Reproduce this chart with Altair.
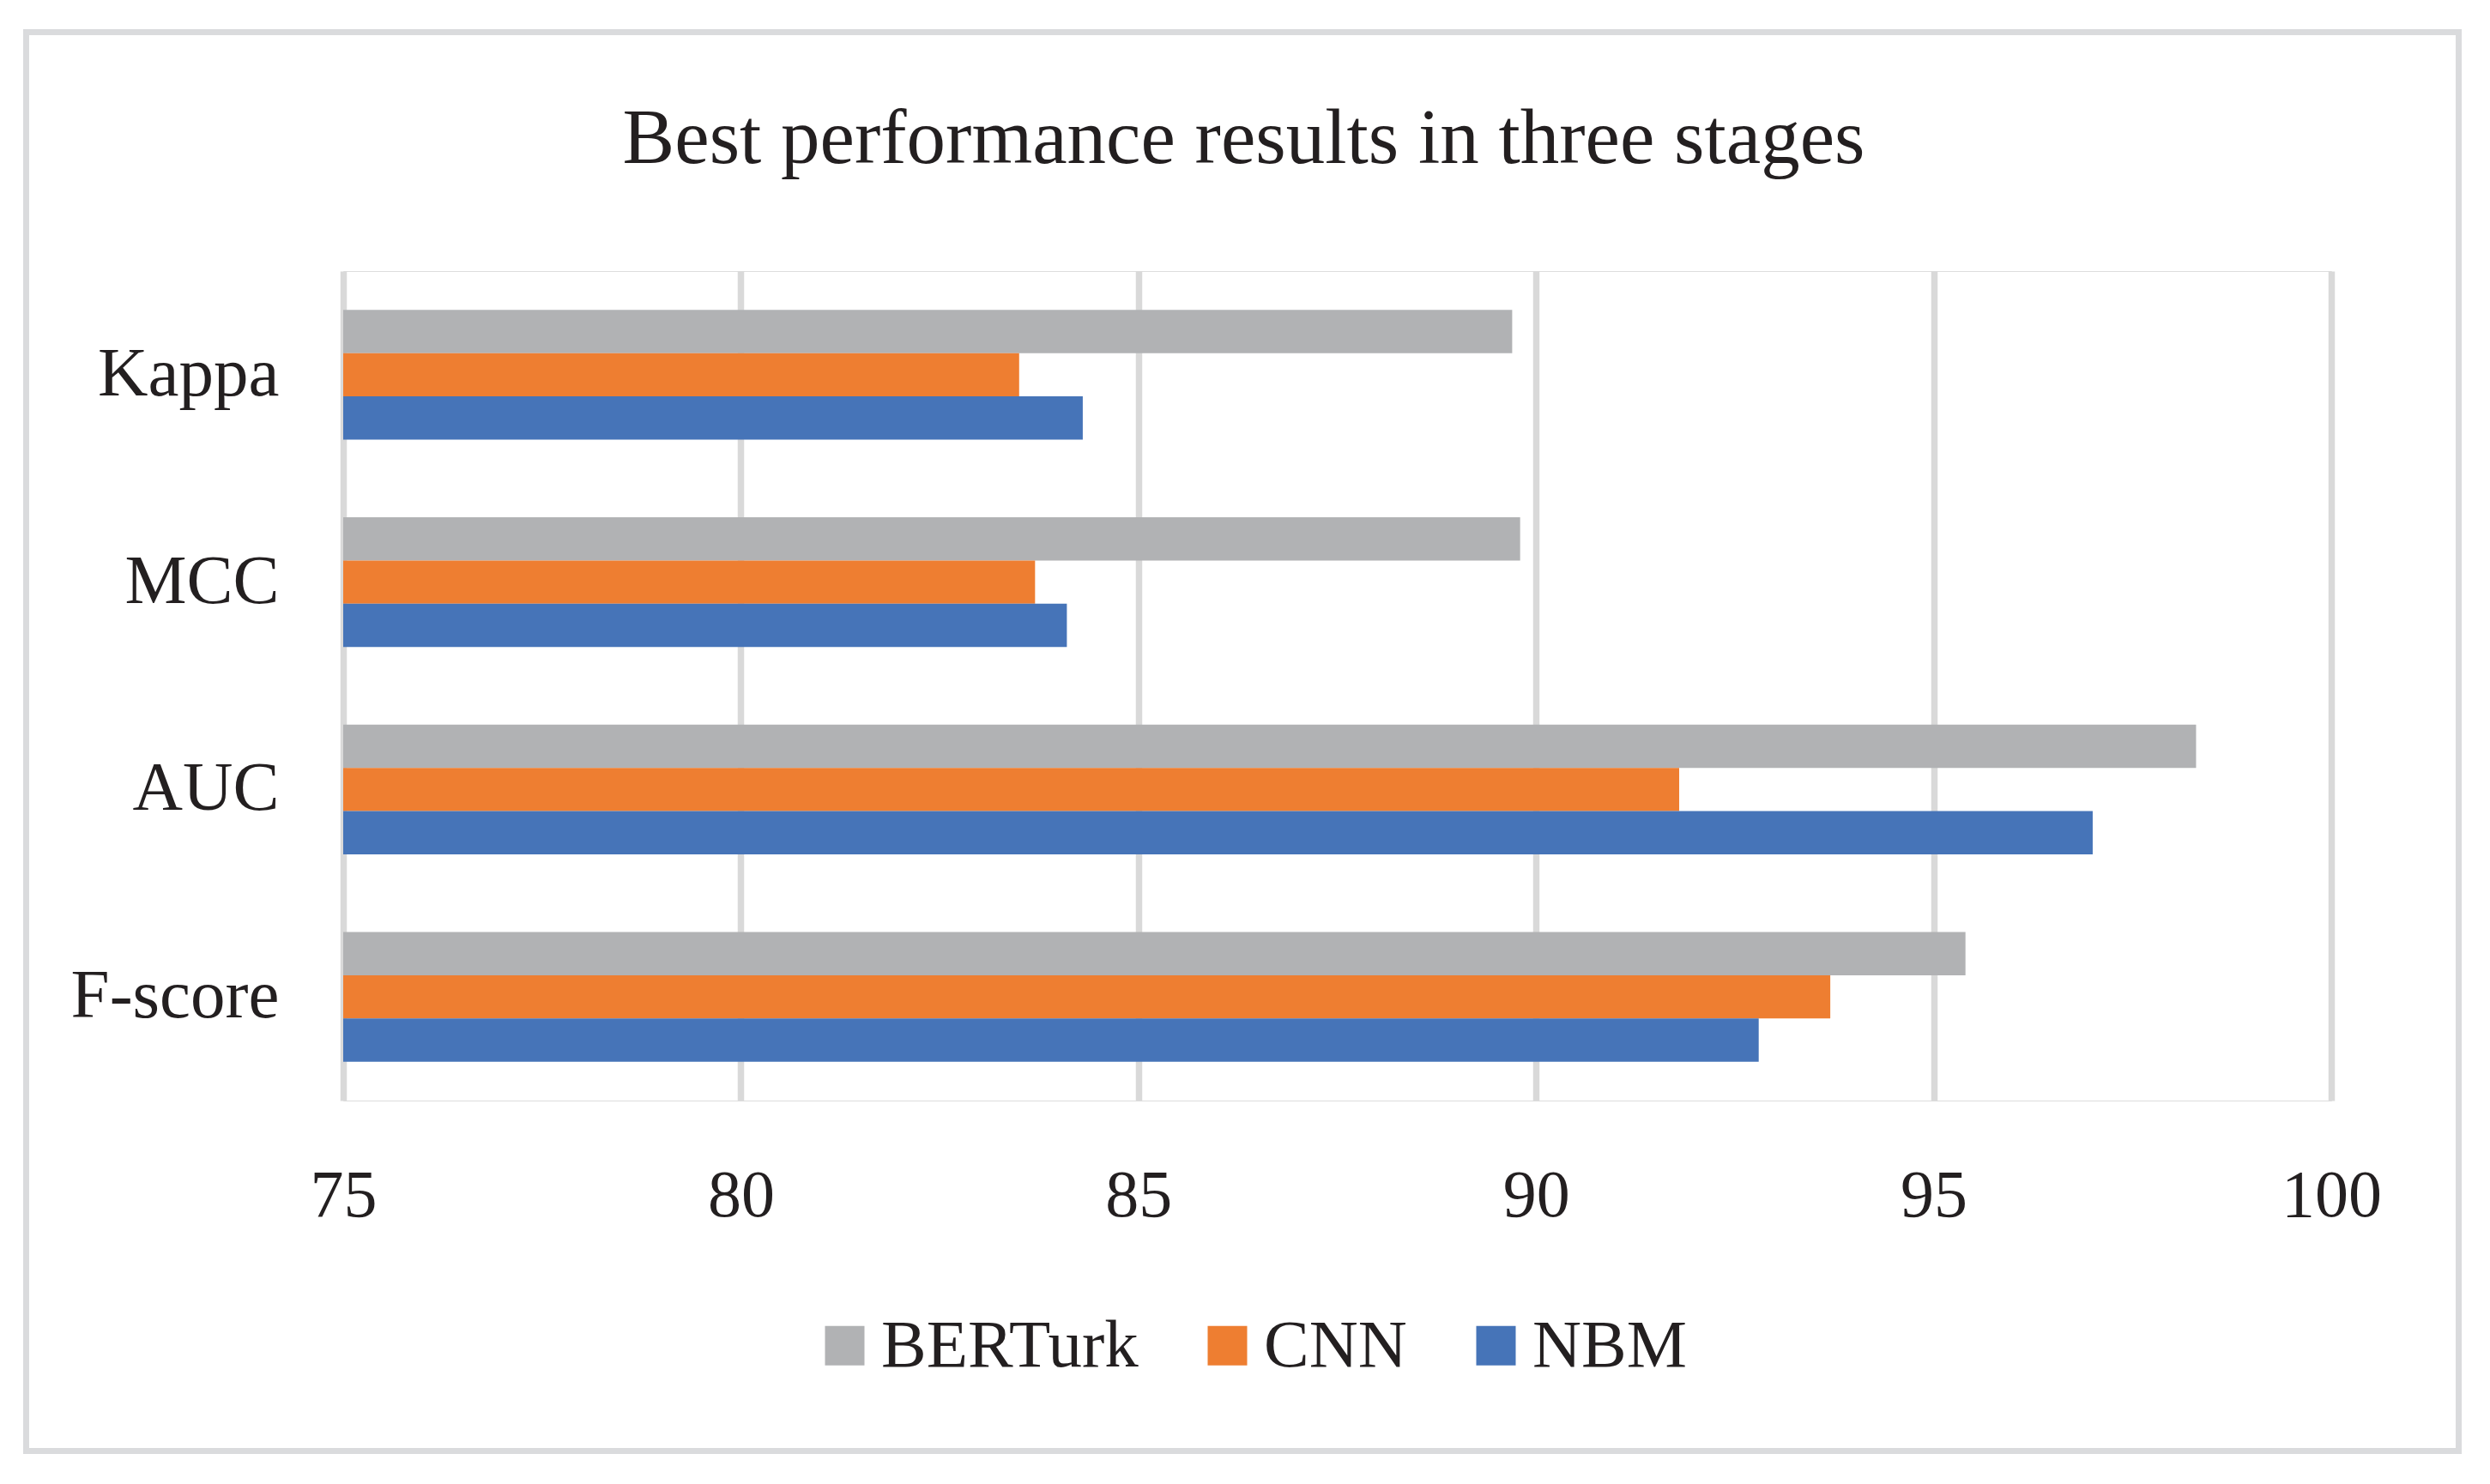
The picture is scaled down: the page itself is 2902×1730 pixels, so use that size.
import altair as alt
import pandas as pd

metrics = ["Kappa", "MCC", "AUC", "F-score"]
models = ["BERTurk", "CNN", "NBM"]
berturk = [89.7, 89.8, 98.3, 95.4]
cnn = [83.5, 83.7, 91.8, 93.7]
nbm = [84.3, 84.1, 97.0, 92.8]
colors = ["#B1B2B4", "#EE7E31", "#4674B8"]
x_ticks = [75, 80, 85, 90, 95, 100]

rows = []
for i, m in enumerate(metrics):
    for model, vals in zip(models, [berturk, cnn, nbm]):
        rows.append({"metric": m, "model": model, "value": vals[i]})
df = pd.DataFrame(rows)

FONT = "Liberation Serif"
TXT = "#231F20"
W, H = 2317, 967
PL, PT = 392, 308

bars = alt.Chart(df).mark_bar().encode(
    x=alt.X("value:Q",
            scale=alt.Scale(domain=[75, 100], nice=False, zero=False),
            axis=alt.Axis(values=x_ticks, title=None, ticks=False, domain=False,
                          grid=True, gridColor="#D9D9D9", gridWidth=7.5,
                          labelFont=FONT, labelFontSize=78, labelColor=TXT,
                          labelPadding=72, labelBaseline="top", labelFlush=False,
                          labelLimit=1000)),
    x2=alt.datum(75),
    y=alt.Y("metric:N", sort=metrics,
            scale=alt.Scale(paddingInner=0.375, paddingOuter=0.1875),
            axis=alt.Axis(title=None, ticks=False, domain=False, grid=False,
                          labelFont=FONT, labelFontSize=81, labelColor=TXT,
                          labelPadding=75, labelLimit=1000)),
    yOffset=alt.YOffset("model:N", sort=models,
                        scale=alt.Scale(paddingInner=0, paddingOuter=0)),
    color=alt.Color("model:N", sort=models,
                    scale=alt.Scale(domain=models, range=colors),
                    legend=alt.Legend(title=None, orient="none", direction="horizontal",
                                      legendX=545, legendY=1213, padding=0,
                                      symbolType="square", symbolSize=2116,
                                      symbolStrokeWidth=0, symbolOpacity=1,
                                      labelFont=FONT, labelFontSize=79, labelColor=TXT,
                                      labelOffset=3, columnPadding=64, labelLimit=1000)),
)

# outer frame around the whole chart (page pixels 27..2869 x 34..1695)
fx1, fx2 = 30.5 - 8 - PL, 2865.5 - 8 - PL
fy1, fy2 = 37.5 - 8 - PT, 1691.5 - 8 - PT
frame = alt.Chart(pd.DataFrame({"f": [0]})).mark_rect(
    filled=False, stroke="#DADBDD", strokeWidth=7
).encode(
    x=alt.value(fx1), x2=alt.value(fx2),
    y=alt.value(fy1), y2=alt.value(fy2),
)

chart = alt.layer(bars, frame).properties(
    width=W, height=H,
    title=alt.TitleParams("Best performance results in three stages",
                          font=FONT, fontSize=91, fontWeight="normal", color=TXT,
                          anchor="middle", dx=-109, offset=-247, baseline="alphabetic"),
    padding={"left": PL, "top": PT, "right": 2886 - PL - W, "bottom": 1714 - PT - H},
    autosize=alt.AutoSizeParams(type="none"),
).configure_view(stroke=None).configure(background="white")

chart.save("out.html", embed_options={"renderer": "svg", "actions": False})
